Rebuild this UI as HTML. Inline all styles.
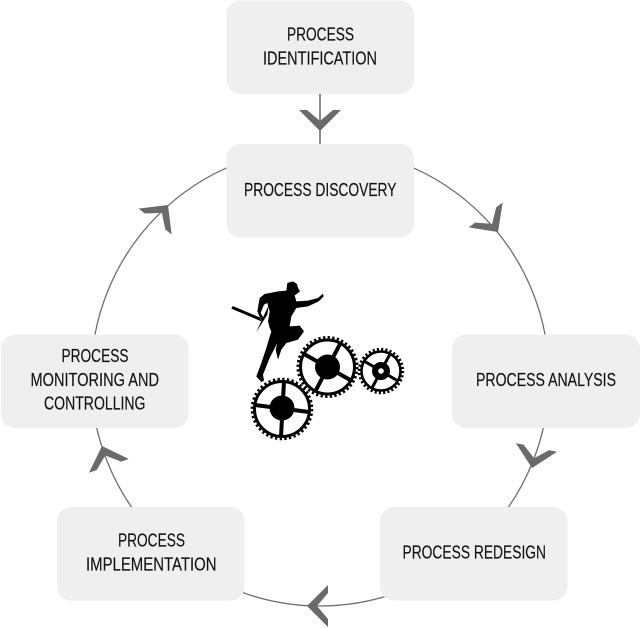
<!DOCTYPE html>
<html>
<head>
<meta charset="utf-8">
<style>
html,body{margin:0;padding:0;background:#fff;width:640px;height:628px;overflow:hidden}
svg{display:block}
text{font-family:"Liberation Sans",sans-serif;font-size:18px;fill:#111;stroke:#111;stroke-width:.15}
</style>
</head>
<body>
<svg width="640" height="628" viewBox="0 0 640 628" xmlns="http://www.w3.org/2000/svg">
<defs>
<polygon id="chev" points="-21,-21 -13,-21 0,-10 13,-21 21,-21 0,0" fill="#6a6a6a"/>
</defs>
<circle cx="320" cy="377" r="229" fill="none" stroke="#6e6e6e" stroke-width="1.3"/>
<line x1="320" y1="94" x2="320" y2="144" stroke="#6e6e6e" stroke-width="1.6"/>
<g fill="#efefef">
<rect x="226.500" y="0.500" width="187.500" height="93.500" rx="14"/>
<rect x="226.500" y="144" width="187.500" height="93.500" rx="14"/>
<rect x="452" y="334.500" width="188" height="93.500" rx="14"/>
<rect x="380" y="507" width="187.500" height="93.500" rx="14"/>
<rect x="57" y="507" width="187.500" height="93.500" rx="14"/>
<rect x="1" y="334.500" width="187.500" height="93.500" rx="14"/>
</g>
<use href="#chev" transform="translate(320,131)"/>
<use href="#chev" transform="translate(498,232) rotate(-36)"/>
<use href="#chev" transform="translate(532,468) rotate(12)"/>
<use href="#chev" transform="translate(307,606) rotate(90)"/>
<use href="#chev" transform="translate(102,446) rotate(161)"/>
<use href="#chev" transform="translate(168,205) rotate(218)"/>
<text x="287" y="40.500" textLength="67" lengthAdjust="spacingAndGlyphs">PROCESS</text>
<text x="263" y="64.500" textLength="114" lengthAdjust="spacingAndGlyphs">IDENTIFICATION</text>
<text x="244" y="196" textLength="152.500" lengthAdjust="spacingAndGlyphs">PROCESS DISCOVERY</text>
<text x="476" y="386" textLength="140" lengthAdjust="spacingAndGlyphs">PROCESS ANALYSIS</text>
<text x="402.500" y="558.500" textLength="143.500" lengthAdjust="spacingAndGlyphs">PROCESS REDESIGN</text>
<text x="118" y="546.500" textLength="67" lengthAdjust="spacingAndGlyphs">PROCESS</text>
<text x="86" y="570.500" textLength="130.500" lengthAdjust="spacingAndGlyphs">IMPLEMENTATION</text>
<text x="61.500" y="362" textLength="67" lengthAdjust="spacingAndGlyphs">PROCESS</text>
<text x="30.500" y="386" textLength="128.500" lengthAdjust="spacingAndGlyphs">MONITORING AND</text>
<text x="44" y="409.500" textLength="101.500" lengthAdjust="spacingAndGlyphs">CONTROLLING</text>
<!-- gears -->
<g fill="none" stroke="#000">
<g>
<circle cx="282" cy="409" r="27.500" stroke-width="3"/>
<circle cx="282" cy="409" r="29.800" stroke-width="3" stroke-dasharray="2.300 2.380"/>
<path d="M284 381L281 437M255 405L309 412" stroke-width="4"/>
</g>
<g>
<circle cx="327.500" cy="367" r="27" stroke-width="3"/>
<circle cx="327.500" cy="367" r="29.500" stroke-width="3" stroke-dasharray="2.300 2.330"/>
<path d="M340 344L316 390M304 354L352 381" stroke-width="4"/>
</g>
<g>
<circle cx="381" cy="371" r="19.500" stroke-width="2.600"/>
<circle cx="381" cy="371" r="21.800" stroke-width="2.800" stroke-dasharray="2.100 2.180"/>
<path d="M390 354L372 388M364 361L398 381" stroke-width="3"/>
</g>
</g>
<circle cx="282" cy="408" r="12.500" fill="#000"/>
<circle cx="327.500" cy="367" r="12.500" fill="#000"/>
<circle cx="381" cy="371" r="9" fill="#000"/>
<circle cx="381" cy="371" r="2.800" fill="#fff"/>
<!-- runner -->
<g transform="translate(228,278) scale(0.3333)" fill="#000">
<polygon points="178,15 195,10 207,18 210,30 216,40 208,47 200,52 205,70 240,68 270,60 285,47 287,55 272,70 240,85 205,90 190,115 185,145 215,143 228,160 210,185 175,195 160,215 150,245 143,215 148,195 125,240 105,290 108,308 100,312 85,295 100,255 115,210 130,160 125,150 120,130 125,100 118,75 108,80 98,105 108,122 100,128 88,100 95,60 110,48 150,40 175,38"/>
<polygon points="14,84 95,118 100,130 10,92"/>
<polygon points="122,82 118,110 85,162 105,118"/>
</g>
</svg>
</body>
</html>
